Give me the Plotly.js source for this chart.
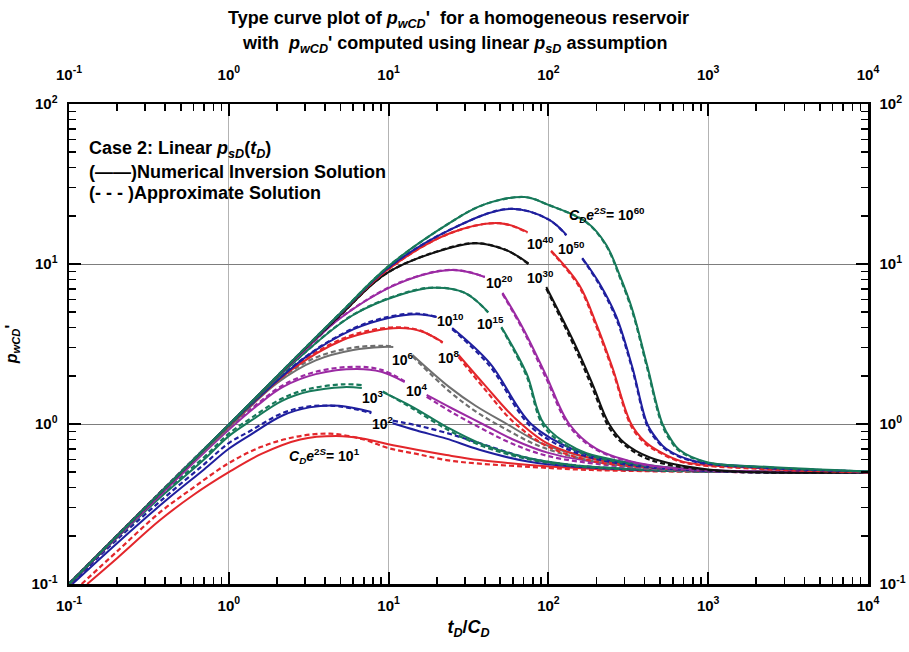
<!DOCTYPE html>
<html>
<head>
<meta charset="utf-8">
<script src="https://cdn.plot.ly/plotly-3.0.1.min.js"></script>
<style>
  html, body { margin: 0; padding: 0; background: #ffffff; }
  #chart { width: 909px; height: 652px; }
</style>
</head>
<body>
<div id="chart"></div>
<script>
// ---- Type curves: dimensionless time tD/CD and derivative pwCD' ----
// null entries leave room for the curve label.

// CDe2S = 10^1
const tC1num = [0.13, 0.2, 0.37, 0.6, 1, 1.6, 2.8, 4.7, 7, 9.8, 15, 23, 37, 76, 150, 300, 1000, 10000];
const pC1num = [0.1, 0.145, 0.25, 0.36, 0.50, 0.65, 0.80, 0.84, 0.81, 0.75, 0.69, 0.64, 0.595, 0.555, 0.53, 0.515, 0.505, 0.5];
const tC1apx = [0.12, 0.2, 0.37, 0.6, 1, 1.6, 2.6, 4.3, 7, 9.8, 15, 23, 37, 76, 150, 300, 1000, 10000];
const pC1apx = [0.1, 0.16, 0.28, 0.40, 0.57, 0.72, 0.83, 0.87, 0.80, 0.71, 0.65, 0.595, 0.565, 0.54, 0.52, 0.51, 0.502, 0.5];

// CDe2S = 10^2
const tC2 = [0.105, 0.2, 0.4, 0.7, 1, 1.35, 2.17, 3.2, 4.9, 7.8, 9, 10.6, 15, 23, 37, 76, 150, 400, 1000, 10000];
const pC2num = [0.1, 0.18, 0.33, 0.52, 0.70, 0.85, 1.13, 1.27, 1.30, 1.19, null, 1.01, 0.91, 0.81, 0.69, 0.58, 0.54, 0.515, 0.505, 0.5];
const pC2apx = [0.102, 0.19, 0.35, 0.56, 0.76, 0.90, 1.17, 1.29, 1.29, 1.17, null, 1.05, 0.98, 0.88, 0.76, 0.61, 0.55, 0.52, 0.505, 0.5];

// CDe2S = 10^3
const tC3 = [0.1, 0.2, 0.4, 0.7, 1, 1.4, 2.17, 3.2, 5.2, 6.8, 8, 9.2, 14.1, 23, 37, 76, 150, 400, 1000, 10000];
const pC3num = [0.1, 0.195, 0.37, 0.6, 0.84, 1.06, 1.40, 1.60, 1.70, 1.68, null, 1.58, 1.28, 0.96, 0.76, 0.61, 0.55, 0.52, 0.505, 0.5];
const pC3apx = [0.1, 0.197, 0.38, 0.62, 0.87, 1.1, 1.45, 1.66, 1.77, 1.75, null, 1.60, 1.25, 0.93, 0.74, 0.60, 0.545, 0.515, 0.503, 0.5];

// CDe2S = 10^4
const tC4 = [0.1, 0.3, 0.6, 1, 1.5, 2.17, 3.5, 6.3, 9, 12.6, 15, 17.3, 25, 38.7, 60, 100, 250, 1000, 10000];
const pC4num = [0.1, 0.29, 0.57, 0.92, 1.3, 1.70, 2.05, 2.21, 2.12, 1.83, null, 1.52, 1.25, 1.0, 0.8, 0.66, 0.56, 0.51, 0.5];
const pC4apx = [0.1, 0.295, 0.58, 0.94, 1.33, 1.74, 2.12, 2.28, 2.18, 1.85, null, 1.48, 1.18, 0.93, 0.75, 0.63, 0.55, 0.505, 0.5];

// CDe2S = 10^6
const tC6 = [0.1, 0.3, 1, 2, 3.5, 6, 9.2, 10.7, 12.5, 14.1, 24, 35, 55, 90, 200, 500, 1000, 10000];
const pC6num = [0.1, 0.3, 0.95, 1.8, 2.5, 2.9, 3.03, 3.03, null, 2.70, 1.7, 1.3, 1.0, 0.76, 0.6, 0.53, 0.51, 0.5];
const pC6apx = [0.1, 0.3, 0.97, 1.85, 2.6, 3.0, 3.08, 3.05, null, 2.65, 1.6, 1.2, 0.92, 0.72, 0.58, 0.52, 0.505, 0.5];

// CDe2S = 10^8
const tC8 = [0.1, 0.3, 1, 2.5, 5.17, 8, 11.7, 16, 21.8, 24.5, 27.4, 40, 61, 100, 200, 500, 1000, 10000];
const pC8num = [0.1, 0.3, 0.97, 2.2, 3.35, 3.8, 3.98, 3.8, 3.25, null, 2.70, 1.75, 1.1, 0.75, 0.6, 0.535, 0.51, 0.5];
const pC8apx = [0.1, 0.3, 0.98, 2.25, 3.42, 3.88, 4.02, 3.82, 3.22, null, 2.62, 1.65, 1.02, 0.72, 0.58, 0.53, 0.508, 0.5];

// CDe2S = 10^10
const tC10 = [0.1, 0.3, 1, 3, 6, 10, 15, 20, 22.5, 25, 43, 78, 150, 300, 1000, 10000];
const pC10num = [0.1, 0.3, 0.98, 2.6, 3.9, 4.6, 4.85, 4.66, null, 3.98, 2.4, 1.0, 0.68, 0.57, 0.51, 0.5];
const pC10apx = [0.1, 0.3, 0.98, 2.62, 3.95, 4.68, 4.9, 4.66, null, 3.92, 2.3, 0.96, 0.66, 0.56, 0.508, 0.5];

// CDe2S = 10^15
const tC15 = [0.1, 0.3, 1, 3, 6, 11.7, 19, 30, 42, 46, 50.8, 72.9, 94, 150, 300, 1000, 10000];
const pC15num = [0.1, 0.3, 0.98, 2.8, 4.8, 6.4, 7.1, 6.6, 5.0, null, 4.04, 2.08, 1.0, 0.7, 0.58, 0.515, 0.5];
const pC15apx = [0.1, 0.3, 0.98, 2.8, 4.82, 6.45, 7.12, 6.6, 4.98, null, 4.0, 2.0, 0.96, 0.68, 0.57, 0.512, 0.5];

// CDe2S = 10^20
const tC20 = [0.1, 0.3, 1, 3, 5, 11.7, 25, 40, 45, 51.6, 70, 97, 135, 200, 400, 1000, 10000];
const pC20num = [0.1, 0.3, 0.99, 2.9, 4.6, 7.6, 9.17, 8.3, null, 6.6, 3.9, 2.0, 1.0, 0.7, 0.56, 0.515, 0.5];
const pC20apx = [0.1, 0.3, 0.99, 2.9, 4.62, 7.65, 9.2, 8.3, null, 6.5, 3.8, 1.92, 0.97, 0.69, 0.555, 0.512, 0.5];

// CDe2S = 10^30
const tC30 = [0.1, 0.3, 1, 3, 5, 9.8, 24, 35.5, 54.6, 75, 86, 97, 150, 190, 240, 300, 428, 1000, 10000];
const pC30num = [0.1, 0.3, 0.99, 2.95, 4.8, 8.8, 12.6, 13.5, 12.2, 10.1, null, 7.18, 3.0, 1.75, 1.0, 0.76, 0.62, 0.52, 0.5];
const pC30apx = [0.1, 0.3, 0.99, 2.95, 4.8, 8.8, 12.65, 13.5, 12.2, 10.0, null, 7.0, 2.85, 1.65, 0.95, 0.74, 0.6, 0.515, 0.5];

// CDe2S = 10^40
const tC40 = [0.1, 0.3, 1, 3, 5, 10, 24, 49.4, 74, 88, 104, 156, 200, 251, 330, 400, 500, 700, 2000, 10000];
const pC40num = [0.1, 0.3, 0.99, 2.97, 4.9, 9.3, 15.5, 18.0, 15.8, null, 12.1, 7.4, 4.2, 2.27, 1.0, 0.78, 0.67, 0.58, 0.53, 0.5];
const pC40apx = [0.1, 0.3, 0.99, 2.97, 4.9, 9.3, 15.5, 18.0, 15.7, null, 12.0, 7.2, 4.05, 2.2, 0.97, 0.76, 0.66, 0.575, 0.525, 0.5];

// CDe2S = 10^50
const tC50 = [0.1, 0.3, 1, 3, 5, 10, 24, 57, 100, 129.6, 145, 163, 208, 266, 335, 416, 480, 546, 800, 2000, 10000];
const pC50num = [0.1, 0.3, 0.99, 2.98, 4.92, 9.5, 16.3, 22.1, 19.0, 15.2, null, 10.9, 7.6, 4.7, 2.27, 1.0, 0.8, 0.7, 0.59, 0.54, 0.505];
const pC50apx = [0.1, 0.3, 0.99, 2.98, 4.92, 9.5, 16.3, 22.1, 19.0, 15.1, null, 10.8, 7.45, 4.55, 2.2, 0.97, 0.78, 0.69, 0.585, 0.535, 0.505];

// CDe2S = 10^60
const tC60 = [0.1, 0.3, 1, 3, 5, 10, 24, 39, 71, 100, 173, 230, 278, 335, 416, 516, 590, 659, 971, 2300, 10000];
const pC60num = [0.1, 0.3, 0.99, 2.98, 4.95, 9.7, 18, 23.4, 26.2, 23.4, 18.3, 13.2, 8.6, 5.2, 2.3, 1.01, 0.79, 0.69, 0.58, 0.54, 0.505];
const pC60apx = [0.1, 0.3, 0.99, 2.98, 4.95, 9.7, 18, 23.4, 26.2, 23.4, 18.2, 13.0, 8.4, 5.05, 2.22, 0.98, 0.77, 0.68, 0.575, 0.535, 0.505];

// curve label exponents for CDe2S
const labelExp = ['1', '2', '3', '4', '6', '8', '10', '15', '20', '30', '40', '50', '60'];

// decade ticks
const decadeX = [0.1, 1, 10, 100, 1000, 10000];
const decadeXText = ['10<sup>-1</sup>', '10<sup>0</sup>', '10<sup>1</sup>', '10<sup>2</sup>', '10<sup>3</sup>', '10<sup>4</sup>'];
const decadeY = [0.1, 1, 10, 100];
const decadeYText = ['10<sup>-1</sup>', '10<sup>0</sup>', '10<sup>1</sup>', '10<sup>2</sup>'];

// ---- styling ----
const RED = '#e3262b', BLUE = '#1f1f9e', GREEN = '#17795a', PURPLE = '#9b2aa3', GRAY = '#6f6f6f', BLACK = '#111111';

const curves = [
  { t: tC1num, tA: tC1apx, n: pC1num, a: pC1apx, c: RED },
  { t: tC2, n: pC2num, a: pC2apx, c: BLUE },
  { t: tC3, n: pC3num, a: pC3apx, c: GREEN },
  { t: tC4, n: pC4num, a: pC4apx, c: PURPLE },
  { t: tC6, n: pC6num, a: pC6apx, c: GRAY },
  { t: tC8, n: pC8num, a: pC8apx, c: RED },
  { t: tC10, n: pC10num, a: pC10apx, c: BLUE },
  { t: tC15, n: pC15num, a: pC15apx, c: GREEN },
  { t: tC20, n: pC20num, a: pC20apx, c: PURPLE },
  { t: tC30, n: pC30num, a: pC30apx, c: BLACK },
  { t: tC40, n: pC40num, a: pC40apx, c: RED },
  { t: tC50, n: pC50num, a: pC50apx, c: BLUE },
  { t: tC60, n: pC60num, a: pC60apx, c: GREEN }
];

const traces = [];
curves.forEach(cv => {
  traces.push({
    x: cv.t, y: cv.n, type: 'scatter', mode: 'lines', connectgaps: false,
    line: { color: cv.c, width: 2, shape: 'spline', smoothing: 1 },
    hoverinfo: 'skip', showlegend: false
  });
  traces.push({
    x: cv.tA || cv.t, y: cv.a, type: 'scatter', mode: 'lines', connectgaps: false,
    line: { color: cv.c, width: 2.2, dash: '5px,3px', shape: 'spline', smoothing: 1 },
    hoverinfo: 'skip', showlegend: false
  });
});
// invisible trace on the secondary axes so the top and right axes are drawn
traces.push({ x: [0.1], y: [0.1], xaxis: 'x2', yaxis: 'y2', mode: 'markers',
  marker: { opacity: 0 }, hoverinfo: 'skip', showlegend: false });

// minor tick positions (2..9 inside every decade)
function minorVals(d0, d1) {
  const v = [];
  for (let d = d0; d < d1; d++) for (let k = 2; k <= 9; k++) v.push(k * Math.pow(10, d));
  return v;
}

const FONT = 'Liberation Sans, Arial, sans-serif';
const tickFont = { family: FONT, size: 15, color: '#000', weight: 700 };

function axisBase(range, vals, text, minor) {
  return {
    type: 'log', range: range, autorange: false,
    tickmode: 'array', tickvals: vals, ticktext: text,
    ticks: 'inside', ticklen: 12, tickwidth: 2, tickcolor: '#000',
    minor: { tickmode: 'array', tickvals: minor, ticks: 'inside', ticklen: 7, tickwidth: 1.6, tickcolor: '#000', showgrid: false },
    showline: true, linecolor: '#000', linewidth: 2.5,
    tickfont: tickFont, ticklabelstandoff: 6, zeroline: false
  };
}

const xMinor = minorVals(-1, 4);
const yMinor = minorVals(-1, 2);

const layout = {
  width: 909, height: 652,
  margin: { l: 69, r: 41, t: 104, b: 68, pad: 0 },
  paper_bgcolor: '#ffffff', plot_bgcolor: '#ffffff',
  showlegend: false,
  xaxis: Object.assign(axisBase([-1, 4], decadeX, decadeXText, xMinor), {
    showgrid: true, gridcolor: '#b3b3b3', gridwidth: 1, mirror: true,
    title: { text: '<i>t</i><sub><i>D</i></sub>/<i>C</i><sub><i>D</i></sub>', font: { family: FONT, size: 18, color: '#000', weight: 700 }, standoff: 8 }
  }),
  xaxis2: Object.assign(axisBase([-1, 4], decadeX, decadeXText, xMinor), {
    overlaying: 'x', side: 'top', showgrid: false, anchor: 'y', ticklabelstandoff: 16
  }),
  yaxis: Object.assign(axisBase([-1, 2], decadeY, decadeYText, yMinor), {
    showgrid: true, gridcolor: '#7d7d7d', gridwidth: 1, mirror: true,
    title: { text: "<i>p</i><sub><i>wCD</i></sub>'", font: { family: FONT, size: 16, color: '#000', weight: 700 }, standoff: 10 }
  }),
  yaxis2: Object.assign(axisBase([-1, 2], decadeY, decadeYText, yMinor), {
    overlaying: 'y', side: 'right', showgrid: false, anchor: 'x'
  }),
  annotations: []
};

// two-line chart title
const titleLines = [
  ["Type curve plot of <i>p</i><sub><i>wCD</i></sub>'  for a homogeneous reservoir", 0.488, 1.177],
  ["with  <i>p</i><sub><i>wCD</i></sub>' computed using linear <i>p</i><sub><i>sD</i></sub> assumption", 0.483, 1.125]
];
titleLines.forEach(l => layout.annotations.push({
  xref: 'paper', yref: 'paper', x: l[1], y: l[2], xanchor: 'center', yanchor: 'middle',
  text: l[0], showarrow: false, font: { family: FONT, size: 18, color: '#000', weight: 700 }
}));

// legend text block
const legendLines = [
  ['Case 2: Linear <i>p</i><sub><i>sD</i></sub>(<i>t</i><sub><i>D</i></sub>)', 0.906],
  ['(\u2014\u2014)Numerical Inversion Solution', 0.858],
  ['(- - - )Approximate Solution', 0.8146]
];
legendLines.forEach(l => layout.annotations.push({
  xref: 'paper', yref: 'paper', x: 0.0225, y: l[1], xanchor: 'left', yanchor: 'middle',
  text: l[0], showarrow: false, font: { family: FONT, size: 18, color: '#000', weight: 700 }
}));

// curve labels (paper positions)
const labelPos = [
  [0.3204, 0.2667], [0.393, 0.335], [0.3805, 0.3896], [0.4355, 0.404], [0.418, 0.469],
  [0.4756, 0.473], [0.477, 0.55], [0.528, 0.544], [0.5394, 0.629], [0.5895, 0.6396],
  [0.5895, 0.7104], [0.6295, 0.700], [0.673, 0.769]
];
labelExp.forEach((e, i) => {
  const full = (i === 0 || i === labelExp.length - 1);
  const txt = (full ? '<i>C</i><sub><i>D</i></sub><i>e</i><sup>2<i>S</i></sup>= ' : '') + '10<sup>' + e + '</sup>';
  layout.annotations.push({
    xref: 'paper', yref: 'paper', x: labelPos[i][0], y: labelPos[i][1],
    xanchor: 'center', yanchor: 'middle', text: txt, showarrow: false,
    font: { family: FONT, size: 14, color: '#000', weight: 700 }
  });
});

Plotly.newPlot('chart', traces, layout, { displayModeBar: false, staticPlot: true });
</script>
</body>
</html>
